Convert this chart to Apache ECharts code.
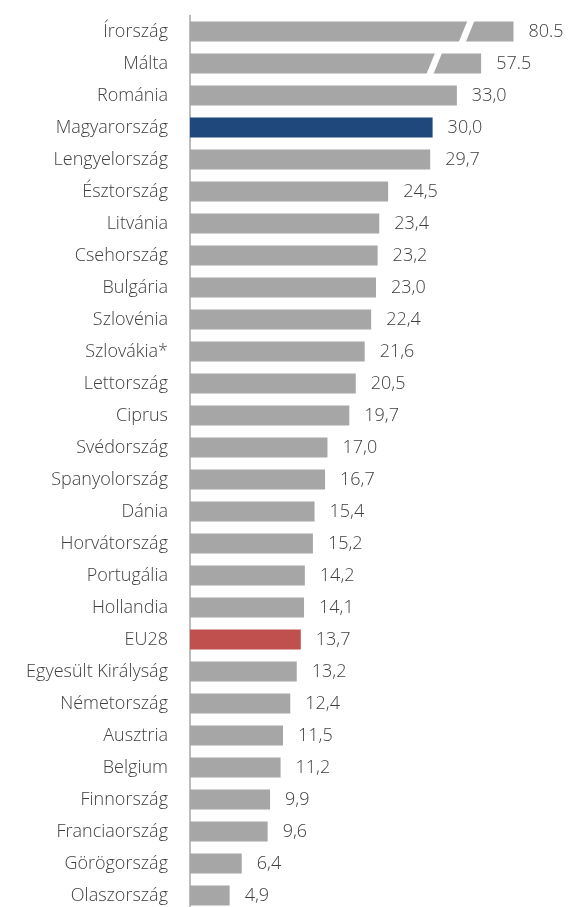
<!DOCTYPE html>
<html>
<head>
<meta charset="utf-8">
<script src="https://cdn.jsdelivr.net/npm/echarts@6/dist/echarts.min.js"></script>
<style>
  html, body { margin: 0; padding: 0; background: #fff; }
  #chart { width: 570px; height: 907px; }
</style>
</head>
<body>
<div id="chart"></div>
<script>
var countries = ['Írország', 'Málta', 'Románia', 'Magyarország', 'Lengyelország', 'Észtország', 'Litvánia',
    'Csehország', 'Bulgária', 'Szlovénia', 'Szlovákia*', 'Lettország', 'Ciprus', 'Svédország',
    'Spanyolország', 'Dánia', 'Horvátország', 'Portugália', 'Hollandia', 'EU28', 'Egyesült Királyság',
    'Németország', 'Ausztria', 'Belgium', 'Finnország', 'Franciaország', 'Görögország', 'Olaszország'];
var values = [80.5, 57.5, 33.0, 30.0, 29.7, 24.5, 23.4, 23.2, 23.0, 22.4, 21.6, 20.5, 19.7, 17.0,
    16.7, 15.4, 15.2, 14.2, 14.1, 13.7, 13.2, 12.4, 11.5, 11.2, 9.9, 9.6, 6.4, 4.9];
var valueLabels = ['80.5', '57.5', '33,0', '30,0', '29,7', '24,5', '23,4', '23,2', '23,0', '22,4', '21,6',
    '20,5', '19,7', '17,0', '16,7', '15,4', '15,2', '14,2', '14,1', '13,7', '13,2', '12,4', '11,5',
    '11,2', '9,9', '9,6', '6,4', '4,9'];
// broken (shortened) bars: drawn length and where the break sits
var brokenCats = ['Írország', 'Málta'];
var brokenLength = [40, 36];
var breakAt = [34.2, 30.2];

var colorDefault = '#a6a6a6';
var colorHighlight = { 'Magyarország': '#1f497d', 'EU28': '#c0504d' };

var barData = countries.map(function (c, i) {
    var b = brokenCats.indexOf(c);
    return {
        value: b >= 0 ? brokenLength[b] : values[i],
        label: valueLabels[i],
        itemStyle: { color: colorHighlight[c] || colorDefault }
    };
});
var breakData = brokenCats.map(function (c, i) { return [breakAt[i], c]; });

var myChart = echarts.init(document.getElementById('chart'));
option = {
    animation: false,
    grid: {
        left: 190,
        right: 8,
        top: 15.5,
        height: 896,
        outerBoundsMode: 'none',
        containLabel: false
    },
    xAxis: {
        type: 'value',
        min: 0,
        max: 46,
        show: false
    },
    yAxis: {
        type: 'category',
        inverse: true,
        data: countries,
        axisLine: { show: true, lineStyle: { color: '#a6a6a6', width: 1.5 } },
        axisTick: { show: false },
        axisLabel: {
            margin: 22,
            fontFamily: 'Open Sans',
            fontWeight: 300,
            fontSize: 18,
            color: '#404040'
        }
    },
    series: [
        {
            type: 'bar',
            data: barData,
            barWidth: 20,
            label: {
                show: true,
                position: 'right',
                distance: 15,
                fontFamily: 'Open Sans',
                fontWeight: 300,
                fontSize: 18,
                color: '#404040',
                formatter: function (p) { return p.data.label; }
            }
        },
        {
            type: 'custom',
            data: breakData,
            z: 5,
            renderItem: function (params, api) {
                var p = api.coord([api.value(0), api.value(1)]);
                var h = 22, slant = 4.5, w = 3.5;
                return {
                    type: 'polygon',
                    shape: {
                        points: [
                            [p[0] - slant - w, p[1] + h / 2],
                            [p[0] + slant - w, p[1] - h / 2],
                            [p[0] + slant + w, p[1] - h / 2],
                            [p[0] - slant + w, p[1] + h / 2]
                        ]
                    },
                    style: { fill: '#ffffff' }
                };
            }
        }
    ]
};
myChart.setOption(option);
</script>
</body>
</html>
